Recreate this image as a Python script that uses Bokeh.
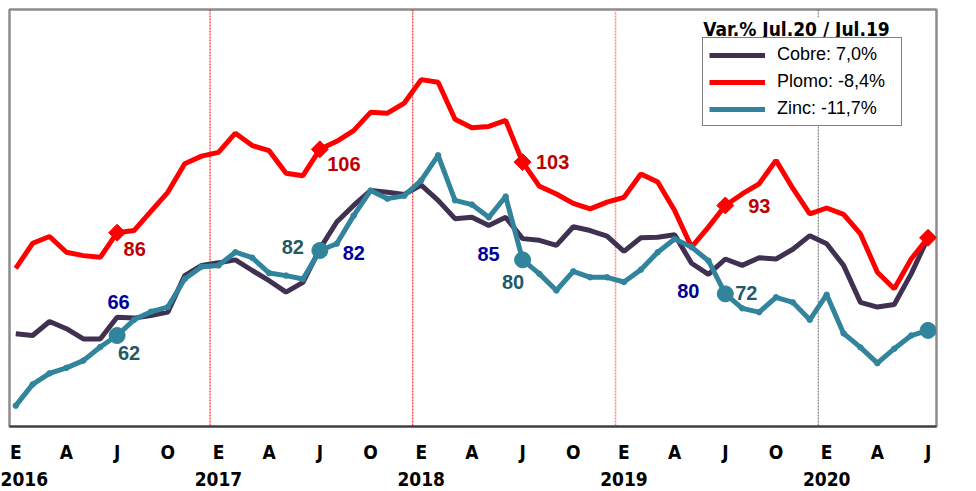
from bokeh.plotting import figure
from bokeh.models import (FixedTicker, LinearAxis, Span, Label, Legend, LegendItem,
                          Range1d)
from bokeh.embed import file_html
from bokeh.resources import INLINE
import numpy as np

# ---------------- data ----------------
quarter_labels = ["E", "A", "J", "O"]
year_labels = ["2016", "2017", "2018", "2019", "2020"]

cobre = [62.4, 62.0, 65.3, 63.6, 61.2, 61.2, 66.3, 66.1, 66.7, 67.5, 76.1, 78.5,
         79.1, 79.8, 77.3, 74.9, 72.2, 74.5, 82.4, 88.7, 92.6, 96.1, 95.7, 95.2,
         97.4, 93.8, 89.5, 89.8, 87.9, 89.8, 84.8, 84.4, 83.2, 87.6, 86.7, 85.4,
         81.8, 85.0, 85.1, 85.7, 79.0, 76.4, 80.0, 78.5, 80.3, 80.0, 82.3,
         85.5, 83.6, 78.5, 69.8, 68.7, 69.3, 76.5, 85.0]
plomo = [77.8, 83.7, 85.3, 81.6, 80.8, 80.4, 86.2, 86.7, 91.2, 95.7, 102.4, 104.2,
         105.1, 109.6, 106.7, 105.5, 100.2, 99.6, 105.8, 107.7, 110.2, 114.5, 114.3, 116.7,
         122.2, 121.6, 112.9, 110.9, 111.2, 112.6, 102.8, 97.1, 95.3, 93.1, 91.8, 93.4,
         94.5, 100.0, 98.1, 91.4, 82.8, 87.5, 92.6, 95.3, 97.7, 103.2, 96.6,
         90.6, 92.0, 90.5, 85.9, 76.9, 73.0, 80.0, 85.0]
zinc = [45.5, 50.5, 53.1, 54.4, 56.1, 59.3, 62.0, 65.7, 67.6, 68.7, 75.3, 78.2,
        78.5, 81.6, 80.3, 76.7, 76.1, 75.3, 82.0, 83.6, 90.2, 96.1, 94.2, 94.9,
        98.5, 104.4, 93.8, 92.8, 89.8, 94.7, 79.8, 76.5, 72.6, 77.1, 75.7, 75.7,
        74.6, 77.5, 81.6, 84.7, 82.8, 79.6, 71.8, 68.4, 67.5, 71.0, 69.8,
        65.7, 71.6, 62.5, 59.2, 55.5, 58.9, 62.0, 63.2]

jul_idx = [6, 18, 30, 42, 54]
cobre_lbl = ["66", "82", "85", "80", "86"]
plomo_lbl = ["86", "106", "103", "93", "85"]
zinc_lbl = ["62", "82", "80", "72", "63"]

legend_title = "Var.% Jul.20 / Jul.19"
legend_names = ["Cobre: 7,0%", "Plomo: -8,4%", "Zinc: -11,7%"]

# ---------------- styles ----------------
C_COBRE = "#403152"
C_PLOMO = "#FF0000"
C_ZINC = "#31849B"
L_COBRE = "#00009A"
L_PLOMO = "#C00000"
L_ZINC = "#215968"
NARROW = "DejaVu Sans Condensed"
SANS = "Liberation Sans"

x = list(range(len(cobre)))

p = figure(frame_width=927, frame_height=417, min_border_left=9, min_border_top=9,
           min_border_right=40, min_border_bottom=65,
           x_range=Range1d(-0.37, 54.5), y_range=Range1d(40.6, 138.7),
           output_backend="svg", toolbar_location=None, y_axis_location=None)
p.xgrid.visible = False
p.ygrid.visible = False
p.outline_line_color = "#8c8c8c"
p.outline_line_width = 2.5
p.background_fill_color = "white"

# year separators
sep_colors = ["#ff0000", "#ff0000", "#ff8a8a", "#404040"]
sep_widths = [1, 1, 1.6, 0.8]
for k, c in enumerate(sep_colors):
    p.add_layout(Span(location=12 * (k + 1) - 0.5, dimension="height", line_color=c,
                      line_width=sep_widths[k], line_dash="2 1", level="underlay"))

# x axis: quarters
ax = p.xaxis[0]
q_ticks = list(range(0, 55, 3))
ax.ticker = FixedTicker(ticks=q_ticks)
ax.major_label_overrides = {t: quarter_labels[(t // 3) % 4] for t in q_ticks}
ax.major_tick_line_color = None
ax.minor_tick_line_color = None
ax.axis_line_color = "#3a3a3a"
ax.axis_line_width = 2
ax.major_label_standoff = 8
ax.major_label_text_font = NARROW
ax.major_label_text_font_style = "bold"
ax.major_label_text_font_size = "19px"
ax.major_label_text_color = "black"

ax2 = LinearAxis(ticker=FixedTicker(ticks=[0, 12, 24, 36, 48]),
                 major_label_overrides={12 * i: y for i, y in enumerate(year_labels)})
ax2.axis_line_color = None
ax2.major_tick_line_color = None
ax2.minor_tick_line_color = None
ax2.major_label_standoff = 0
ax2.major_label_text_font = NARROW
ax2.major_label_text_font_style = "bold"
ax2.major_label_text_font_size = "19px"
ax2.major_label_text_color = "black"
p.add_layout(ax2, "below")

# lines
r_c = p.line(x, cobre, line_color=C_COBRE, line_width=5)
r_p = p.line(x, plomo, line_color=C_PLOMO, line_width=5)
r_z = p.line(x, zinc, line_color=C_ZINC, line_width=5)
p.scatter(x, zinc, size=5.5, color=C_ZINC)

# highlighted July points
p.scatter([x[i] for i in jul_idx], [plomo[i] for i in jul_idx], marker="square",
          angle=np.pi / 4, size=12, color=C_PLOMO)
p.scatter([x[i] for i in jul_idx], [zinc[i] for i in jul_idx], marker="circle",
          size=16, color=C_ZINC)

# value labels: (dx, dy_down) offsets in px
cobre_off = [(1.5, -15), (34, 4), (-34, 15), (-37, 32), (32.5, -11)]
plomo_off = [(17.6, 16), (24, 15), (30, 0), (34, 1), (33, 15)]
zinc_off = [(12, 17), (-27, -4), (-9.5, 22), (21, -1), (33, 0)]
for vals, lbls, offs, col in [(cobre, cobre_lbl, cobre_off, L_COBRE),
                              (plomo, plomo_lbl, plomo_off, L_PLOMO),
                              (zinc, zinc_lbl, zinc_off, L_ZINC)]:
    for i, t, (dx, dy) in zip(jul_idx, lbls, offs):
        p.add_layout(Label(x=x[i], y=vals[i], text=t, x_offset=dx, y_offset=-dy,
                           text_align="center", text_baseline="middle",
                           text_font=SANS, text_font_style="bold",
                           text_font_size="20px", text_color=col))

# legend
legend = Legend(items=[LegendItem(label=legend_names[0], renderers=[r_c]),
                       LegendItem(label=legend_names[1], renderers=[r_p]),
                       LegendItem(label=legend_names[2], renderers=[r_z])],
                location=(693, 300), margin=0, padding=6, spacing=6,
                label_height=20, glyph_height=20, glyph_width=56, label_standoff=12,
                label_width=118, label_text_font=SANS, label_text_font_size="18px",
                label_text_color="black", border_line_color="black", border_line_width=1,
                background_fill_color="white", background_fill_alpha=1.0)
p.add_layout(legend)

p.add_layout(Label(x=787, y=398, x_units="screen", y_units="screen", text=legend_title,
                   text_align="center", text_baseline="middle", text_font=NARROW,
                   text_font_style="bold", text_font_size="19px", text_color="black",
                   background_fill_color="white", level="overlay"))

open("out.html", "w").write(file_html(p, INLINE))
